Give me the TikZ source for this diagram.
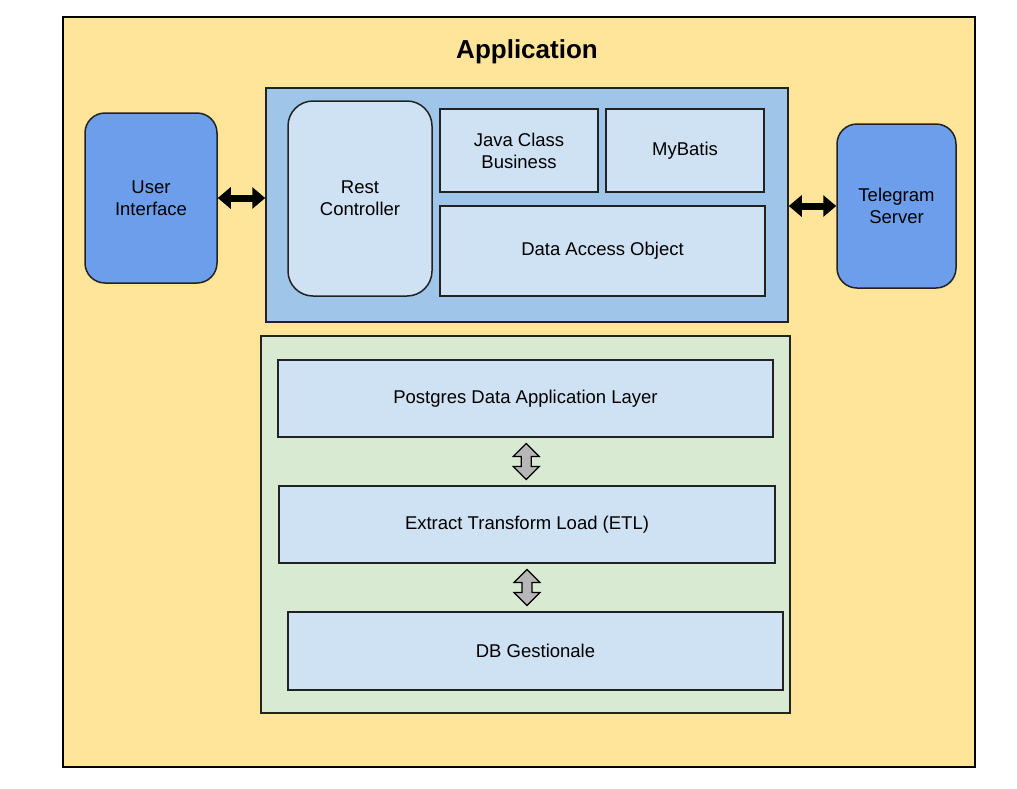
\documentclass[tikz,border=0pt]{standalone}
\usepackage{fontspec}
\setmainfont{Liberation Sans}
\usetikzlibrary{arrows.meta,calc}
\definecolor{appbg}{HTML}{FFE599}
\definecolor{bizbg}{HTML}{9FC5E8}
\definecolor{innerbg}{HTML}{CFE2F3}
\definecolor{extbg}{HTML}{6D9EEB}
\definecolor{databg}{HTML}{D9EAD3}
\definecolor{arrgray}{HTML}{B7B7B7}
\definecolor{edge}{HTML}{222222}
\tikzset{
  box/.style={draw=edge, line width=1.5pt, inner sep=0pt, align=center,
    font=\fontsize{18.5}{22}\selectfont, text=black},
  inner/.style={box, fill=innerbg},
  ext/.style={box, fill=extbg, rounded corners=20pt},
  blk/.style={line width=7pt, {Triangle[length=13pt,width=21pt]}-{Triangle[length=13pt,width=21pt]}},
  vdbl/.style={draw=black, line width=1.2pt, fill=arrgray, line join=miter}
}
\newcommand{\vdblarrow}[1]{%
  \draw[vdbl] ($(#1)+(0,-18)$) -- ++(13,13) -- ++(-8,0) -- ++(0,10) -- ++(8,0)
    -- ++(-13,13) -- ++(-13,-13) -- ++(8,0) -- ++(0,-10) -- ++(-8,0) -- cycle;}
\begin{document}
\begin{tikzpicture}[x=1pt,y=-1pt]
\useasboundingbox (0,0) rectangle (1017,788);
\node[draw=black, line width=2pt, fill=appbg, minimum width=912pt, minimum height=750pt] (app) at (519,392) {};
\node[font=\fontsize{26}{30}\selectfont\bfseries] (title) at (527,52) {Application};

\node[box, fill=bizbg, minimum width=522pt, minimum height=234pt] (biz) at (527,205) {};
\node[ext, minimum width=132pt, minimum height=170pt] (ui) at (151,198) {User\\Interface};
\node[ext, minimum width=119pt, minimum height=164pt] (tg) at (896.5,206) {Telegram\\Server};
\node[inner, rounded corners=25pt, minimum width=144pt, minimum height=195pt] (rest) at (360,198.5) {Rest\\Controller};
\node[inner, minimum width=158pt, minimum height=83pt] (java) at (519,150.5) {Java Class\\Business};
\node[inner, minimum width=158pt, minimum height=83pt] (myb) at (685,150.5) {MyBatis};
\node[inner, minimum width=325pt, minimum height=90pt] (dao) at (602.5,251) {Data Access Object};

\draw[blk] (ui.east) -- (ui.east -| biz.west);
\draw[blk] (biz.east |- tg.west) -- (tg.west);

\node[box, fill=databg, minimum width=529pt, minimum height=377pt] (data) at (525.5,524.5) {};
\node[inner, minimum width=495pt, minimum height=77pt] (pg) at (525.5,398.5) {Postgres Data Application Layer};
\node[inner, minimum width=496pt, minimum height=77pt] (etl) at (527,524.5) {Extract Transform Load (ETL)};
\node[inner, minimum width=495pt, minimum height=78pt] (db) at (535.5,651) {DB Gestionale};

\coordinate (a1) at ($(pg.south)!0.5!(etl.north)$);
\coordinate (a2) at ($(etl.south)!0.5!(etl.south |- db.north)$);
\vdblarrow{a1}
\vdblarrow{a2}
\end{tikzpicture}
\end{document}
